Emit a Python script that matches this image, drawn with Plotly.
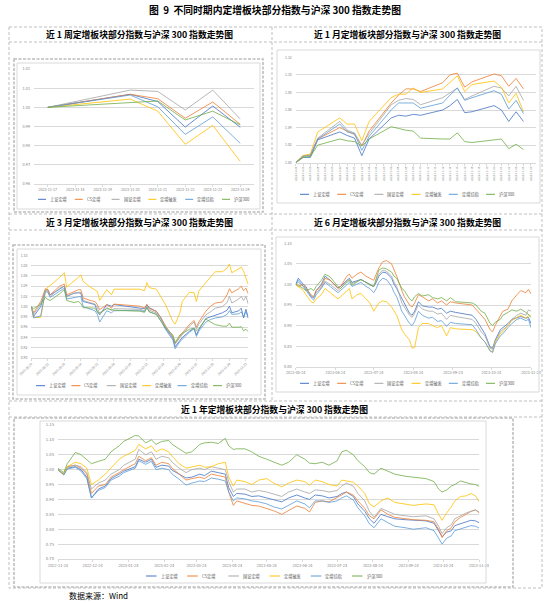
import plotly.graph_objects as go

W, H = 546, 603
FONT = "Noto Sans CJK SC"
TICK_COLOR = "#7F7F7F"
GRID_COLOR = "#D9D9D9"

names = ["上证定增", "CS定增", "国证定增", "定增破发", "定增综指", "沪深300"]
colors = ["#4472C4", "#ED7D31", "#A5A5A5", "#FFC000", "#5B9BD5", "#70AD47"]

# ---- 近1周 ----
week_dates = ["2023-11-17", "2023-11-20", "2023-11-21", "2023-11-22", "2023-11-23", "2023-11-24"]
week_sz = [1.000, 1.0068, 1.0030, 0.9897, 1.0007, 0.9896]
week_cs = [1.000, 1.0068, 1.0045, 0.9943, 1.0028, 0.9911]
week_gz = [1.000, 1.0090, 1.0083, 0.9986, 1.0090, 0.9939]
week_pf = [1.000, 1.0043, 0.9980, 0.9807, 0.9906, 0.9718]
week_zz = [1.000, 1.0064, 1.0003, 0.9859, 0.9950, 0.9812]
week_hs = [1.000, 1.0023, 1.0033, 0.9934, 0.9980, 0.9908]

# ---- 近1月 ----
month_dates = ["2023-10-24", "2023-10-25", "2023-10-26", "2023-10-27", "2023-10-30", "2023-10-31",
               "2023-11-01", "2023-11-02", "2023-11-03", "2023-11-06", "2023-11-07", "2023-11-08",
               "2023-11-09", "2023-11-10", "2023-11-13", "2023-11-14", "2023-11-15", "2023-11-16",
               "2023-11-17", "2023-11-20", "2023-11-21", "2023-11-22", "2023-11-23", "2023-11-24"]
month_sz = [1.000, 1.006, 1.006, 1.026, 1.035, 1.031, 1.028, 1.008, 1.027, 1.051, 1.054, 1.053,
            1.055, 1.054, 1.060, 1.065, 1.072, 1.057, 1.058, 1.065, 1.060, 1.047, 1.058, 1.047]
month_cs = [1.000, 1.008, 1.009, 1.027, 1.040, 1.036, 1.032, 1.019, 1.036, 1.068, 1.077, 1.084,
            1.084, 1.081, 1.091, 1.100, 1.102, 1.086, 1.092, 1.101, 1.099, 1.087, 1.096, 1.084]
month_gz = [1.000, 1.008, 1.008, 1.028, 1.047, 1.037, 1.034, 1.020, 1.033, 1.066, 1.071, 1.073,
            1.072, 1.066, 1.074, 1.080, 1.085, 1.072, 1.076, 1.087, 1.085, 1.076, 1.087, 1.071]
month_pf = [1.000, 1.008, 1.010, 1.035, 1.051, 1.044, 1.044, 1.025, 1.047, 1.074, 1.078, 1.078,
            1.085, 1.080, 1.084, 1.091, 1.099, 1.081, 1.089, 1.093, 1.086, 1.068, 1.079, 1.058]
month_zz = [1.000, 1.007, 1.008, 1.027, 1.044, 1.035, 1.033, 1.014, 1.030, 1.060, 1.068, 1.068,
            1.068, 1.062, 1.068, 1.077, 1.085, 1.071, 1.074, 1.082, 1.078, 1.061, 1.071, 1.056]
month_hs = [1.000, 1.006, 1.007, 1.020, 1.027, 1.025, 1.024, 1.019, 1.027, 1.041, 1.039, 1.037,
            1.036, 1.028, 1.027, 1.027, 1.034, 1.024, 1.023, 1.026, 1.027, 1.016, 1.021, 1.015]

# ---- 近3月 ----
q_dates = ["2023-08-24", "2023-08-25", "2023-08-28", "2023-08-30", "2023-08-31", "2023-09-01",
           "2023-09-05", "2023-09-07", "2023-09-08", "2023-09-11", "2023-09-13", "2023-09-14",
           "2023-09-15", "2023-09-18", "2023-09-20", "2023-09-21", "2023-09-22", "2023-09-25",
           "2023-09-27", "2023-09-28", "2023-10-09", "2023-10-11", "2023-10-12", "2023-10-13",
           "2023-10-16", "2023-10-18", "2023-10-20", "2023-10-23", "2023-10-24", "2023-10-26",
           "2023-10-27", "2023-10-30", "2023-11-01", "2023-11-02", "2023-11-03", "2023-11-06",
           "2023-11-08", "2023-11-10", "2023-11-13", "2023-11-15", "2023-11-16", "2023-11-17",
           "2023-11-20", "2023-11-21", "2023-11-22", "2023-11-23", "2023-11-24"]
q_sz = [1.000, 0.981, 1.000, 1.033, 1.033, 1.023, 1.034, 1.040, 1.020, 1.026, 1.027, 1.026,
        1.010, 1.006, 1.004, 0.990, 0.984, 1.004, 1.001, 1.004, 0.998, 0.996, 1.004, 0.998,
        0.991, 0.978, 0.957, 0.939, 0.922, 0.935, 0.940, 0.952, 0.958, 0.945, 0.955, 0.977,
        0.980, 0.984, 0.988, 0.993, 1.001, 0.988, 0.992, 0.997, 0.978, 0.995, 0.978]
q_cs = [1.000, 0.988, 1.010, 1.035, 1.033, 1.023, 1.040, 1.044, 1.023, 1.030, 1.033, 1.033,
        1.017, 1.012, 1.010, 1.004, 0.994, 1.004, 0.997, 1.005, 1.001, 0.997, 1.004, 0.996,
        0.991, 0.978, 0.962, 0.942, 0.929, 0.942, 0.949, 0.965, 0.973, 0.960, 0.970, 0.991,
        1.001, 1.007, 1.009, 1.023, 1.035, 1.027, 1.035, 1.040, 1.031, 1.036, 1.025]
q_gz = [1.000, 0.985, 1.005, 1.032, 1.030, 1.020, 1.036, 1.040, 1.020, 1.026, 1.028, 1.028,
        1.012, 1.008, 1.005, 0.999, 0.985, 0.998, 0.993, 0.996, 0.995, 0.992, 1.001, 0.993,
        0.988, 0.976, 0.960, 0.940, 0.927, 0.940, 0.946, 0.962, 0.970, 0.956, 0.966, 0.984,
        0.990, 0.997, 1.000, 1.008, 1.020, 1.007, 1.015, 1.020, 1.012, 1.020, 1.005]
q_pf = [1.000, 0.979, 0.979, 1.031, 1.038, 1.041, 1.057, 1.066, 1.038, 1.049, 1.057, 1.062,
        1.049, 1.038, 1.033, 1.030, 1.012, 1.033, 1.023, 1.034, 1.034, 1.031, 1.047, 1.037,
        1.034, 1.018, 1.003, 0.971, 0.966, 0.988, 1.010, 1.028, 1.027, 1.010, 1.030, 1.047,
        1.057, 1.068, 1.068, 1.075, 1.083, 1.066, 1.074, 1.077, 1.069, 1.056, 1.043]
q_zz = [1.000, 0.978, 0.982, 1.030, 1.028, 1.018, 1.030, 1.036, 1.015, 1.018, 1.020, 1.020,
        1.000, 0.995, 0.992, 0.985, 0.970, 0.992, 0.988, 0.992, 0.993, 0.990, 0.999, 0.990,
        0.985, 0.972, 0.955, 0.935, 0.918, 0.932, 0.937, 0.950, 0.957, 0.942, 0.952, 0.970,
        0.975, 0.978, 0.980, 0.985, 0.992, 0.985, 0.986, 0.990, 0.980, 0.990, 0.978]
q_hs = [1.000, 0.996, 1.005, 1.018, 1.014, 1.012, 1.025, 1.033, 1.012, 1.008, 1.010, 1.006,
        0.998, 0.998, 0.997, 0.990, 0.988, 0.996, 0.994, 0.993, 0.991, 0.989, 0.998, 0.990,
        0.985, 0.972, 0.958, 0.945, 0.930, 0.945, 0.948, 0.956, 0.958, 0.953, 0.957, 0.976,
        0.970, 0.965, 0.962, 0.962, 0.968, 0.960, 0.960, 0.961, 0.953, 0.956, 0.951]

# ---- 近6月 ----
half_dates = ["2023-05-24", "2023-05-26", "2023-05-30", "2023-06-01", "2023-06-05", "2023-06-07",
              "2023-06-09", "2023-06-13", "2023-06-16", "2023-06-20", "2023-06-26", "2023-06-28",
              "2023-07-03", "2023-07-05", "2023-07-07", "2023-07-11", "2023-07-14", "2023-07-18",
              "2023-07-21", "2023-07-24", "2023-07-26", "2023-07-28", "2023-07-31", "2023-08-03",
              "2023-08-07", "2023-08-09", "2023-08-11", "2023-08-15", "2023-08-17", "2023-08-21",
              "2023-08-23", "2023-08-25", "2023-08-28", "2023-08-31", "2023-09-05", "2023-09-08",
              "2023-09-12", "2023-09-15", "2023-09-19", "2023-09-22", "2023-09-26", "2023-10-09",
              "2023-10-12", "2023-10-16", "2023-10-19", "2023-10-23", "2023-10-25", "2023-10-27",
              "2023-10-31", "2023-11-02", "2023-11-06", "2023-11-09", "2023-11-13", "2023-11-16",
              "2023-11-20", "2023-11-22", "2023-11-24"]
half_sz = [1.000, 1.015, 1.000, 0.995, 0.970, 0.968, 0.985, 1.000, 1.020, 1.010, 0.992, 0.995,
           1.010, 1.015, 1.005, 1.008, 1.012, 1.005, 1.000, 0.995, 1.005, 1.020, 1.030, 1.028,
           1.015, 1.000, 0.990, 0.965, 0.955, 0.930, 0.925, 0.935, 0.958, 0.948, 0.945, 0.945,
           0.940, 0.942, 0.930, 0.935, 0.932, 0.925, 0.915, 0.895, 0.880, 0.848, 0.845, 0.865,
           0.890, 0.895, 0.905, 0.915, 0.920, 0.922, 0.918, 0.920, 0.905]
half_cs = [1.000, 0.995, 1.000, 0.990, 0.975, 0.970, 0.985, 0.995, 1.015, 1.010, 0.990, 0.995,
           1.020, 1.025, 1.015, 1.025, 1.030, 1.020, 1.015, 1.010, 1.025, 1.040, 1.055, 1.058,
           1.050, 1.035, 1.020, 0.985, 0.970, 0.950, 0.945, 0.955, 0.975, 0.970, 0.960, 0.965,
           0.955, 0.960, 0.950, 0.958, 0.955, 0.950, 0.940, 0.925, 0.915, 0.890, 0.885, 0.900,
           0.925, 0.935, 0.940, 0.960, 0.975, 0.985, 0.980, 0.988, 0.977]
half_gz = [1.000, 1.005, 0.995, 0.990, 0.972, 0.968, 0.980, 0.992, 1.008, 1.000, 0.985, 0.990,
           1.008, 1.012, 1.002, 1.008, 1.012, 1.005, 0.998, 0.995, 1.010, 1.025, 1.035, 1.032,
           1.020, 1.005, 0.995, 0.955, 0.945, 0.925, 0.920, 0.930, 0.950, 0.940, 0.935, 0.935,
           0.928, 0.930, 0.915, 0.925, 0.922, 0.915, 0.905, 0.885, 0.875, 0.845, 0.842, 0.860,
           0.885, 0.890, 0.900, 0.915, 0.925, 0.930, 0.925, 0.938, 0.935]
half_pf = [1.000, 0.995, 0.985, 0.975, 0.958, 0.955, 0.965, 0.975, 0.990, 0.980, 0.965, 0.970,
           0.985, 0.990, 0.965, 0.975, 0.978, 0.965, 0.955, 0.935, 0.945, 0.955, 0.960, 0.958,
           0.945, 0.935, 0.925, 0.890, 0.880, 0.865, 0.845, 0.847, 0.895, 0.905, 0.905, 0.900,
           0.895, 0.900, 0.875, 0.895, 0.892, 0.890, 0.885, 0.870, 0.860, 0.840, 0.835, 0.860,
           0.880, 0.885, 0.900, 0.912, 0.920, 0.925, 0.918, 0.925, 0.920]
half_zz = [1.000, 1.010, 0.995, 0.985, 0.968, 0.962, 0.975, 0.990, 1.005, 0.995, 0.980, 0.985,
           1.000, 1.005, 0.995, 1.000, 1.005, 0.995, 0.990, 0.980, 0.990, 1.005, 1.015, 1.012,
           0.995, 0.980, 0.970, 0.935, 0.925, 0.905, 0.900, 0.910, 0.935, 0.925, 0.918, 0.920,
           0.910, 0.912, 0.898, 0.908, 0.905, 0.902, 0.890, 0.870, 0.860, 0.838, 0.835, 0.855,
           0.875, 0.880, 0.895, 0.905, 0.915, 0.918, 0.912, 0.915, 0.895]
half_hs = [1.000, 0.998, 0.990, 0.985, 0.990, 0.985, 0.995, 1.010, 1.025, 1.018, 0.995, 0.990,
           1.005, 1.010, 0.998, 1.005, 1.012, 1.005, 1.000, 0.995, 1.015, 1.035, 1.040, 1.038,
           1.030, 1.020, 1.015, 0.990, 0.985, 0.965, 0.960, 0.970, 0.978, 0.972, 0.975, 0.968,
           0.965, 0.968, 0.960, 0.968, 0.958, 0.955, 0.950, 0.935, 0.930, 0.905, 0.900, 0.908,
           0.915, 0.925, 0.932, 0.938, 0.935, 0.940, 0.932, 0.928, 0.922]

# ---- 近1年 ----
year_dates = ["2022-11-24", "2022-11-29", "2022-12-02", "2022-12-09", "2022-12-14", "2022-12-19",
              "2022-12-23", "2022-12-29", "2023-01-04", "2023-01-09", "2023-01-16", "2023-01-20",
              "2023-01-30", "2023-02-02", "2023-02-08", "2023-02-13", "2023-02-17", "2023-02-22",
              "2023-02-28", "2023-03-03", "2023-03-09", "2023-03-15", "2023-03-20", "2023-03-27",
              "2023-03-31", "2023-04-06", "2023-04-12", "2023-04-18", "2023-04-21", "2023-04-25",
              "2023-04-28", "2023-05-05", "2023-05-11", "2023-05-17", "2023-05-24", "2023-05-30",
              "2023-06-06", "2023-06-12", "2023-06-19", "2023-06-26", "2023-06-30", "2023-07-05",
              "2023-07-11", "2023-07-17", "2023-07-24", "2023-07-28", "2023-08-01", "2023-08-07",
              "2023-08-11", "2023-08-17", "2023-08-21", "2023-08-25", "2023-08-31", "2023-09-06",
              "2023-09-12", "2023-09-21", "2023-09-28", "2023-10-09", "2023-10-16", "2023-10-20",
              "2023-10-23", "2023-10-27", "2023-10-31", "2023-11-03", "2023-11-08", "2023-11-13",
              "2023-11-17", "2023-11-21", "2023-11-24"]
year_sz = [1.000, 0.983, 1.005, 1.010, 1.000, 0.975, 0.905, 0.935, 0.945, 0.970, 0.985, 0.995,
           1.010, 1.035, 1.025, 1.035, 1.008, 1.015, 1.012, 0.998, 0.985, 0.972, 0.975, 0.985,
           0.980, 0.995, 0.990, 0.985, 0.940, 0.910, 0.920, 0.918, 0.910, 0.912, 0.905, 0.898,
           0.892, 0.905, 0.915, 0.905, 0.900, 0.915, 0.912, 0.905, 0.910, 0.920, 0.925, 0.910,
           0.885, 0.860, 0.835, 0.820, 0.850, 0.842, 0.835, 0.832, 0.830, 0.828, 0.820, 0.795,
           0.775, 0.790, 0.795, 0.812, 0.818, 0.825, 0.830, 0.828, 0.822]
year_cs = [1.000, 0.985, 1.010, 1.015, 1.005, 0.985, 0.920, 0.945, 0.950, 0.975, 0.990, 1.000,
           1.020, 1.045, 1.030, 1.040, 1.015, 1.025, 1.020, 1.005, 0.985, 0.965, 0.970, 0.975,
           0.970, 0.985, 0.980, 0.975, 0.925, 0.880, 0.895, 0.888, 0.880, 0.878, 0.870, 0.862,
           0.850, 0.862, 0.878, 0.870, 0.858, 0.890, 0.895, 0.892, 0.905, 0.915, 0.925, 0.915,
           0.895, 0.870, 0.845, 0.835, 0.865, 0.850, 0.840, 0.835, 0.832, 0.830, 0.825, 0.800,
           0.772, 0.795, 0.805, 0.825, 0.840, 0.850, 0.860, 0.865, 0.855]
year_gz = [1.000, 0.985, 1.010, 1.015, 1.010, 0.990, 0.935, 0.955, 0.965, 0.985, 1.000, 1.015,
           1.035, 1.068, 1.050, 1.060, 1.035, 1.045, 1.040, 1.025, 1.005, 0.990, 1.000, 1.005,
           1.000, 1.010, 1.005, 1.000, 0.960, 0.925, 0.935, 0.935, 0.925, 0.930, 0.925, 0.918,
           0.910, 0.925, 0.935, 0.925, 0.920, 0.932, 0.930, 0.925, 0.930, 0.945, 0.955, 0.945,
           0.920, 0.895, 0.860, 0.840, 0.870, 0.860, 0.850, 0.845, 0.842, 0.845, 0.835, 0.810,
           0.785, 0.805, 0.815, 0.835, 0.845, 0.855, 0.860, 0.865, 0.858]
year_pf = [1.000, 0.985, 1.010, 1.025, 1.020, 1.005, 0.950, 0.965, 0.985, 1.005, 1.035, 1.045,
           1.065, 1.085, 1.070, 1.080, 1.060, 1.070, 1.060, 1.045, 1.020, 1.005, 1.010, 1.015,
           1.008, 1.010, 1.020, 1.025, 0.975, 0.945, 0.965, 0.960, 0.950, 0.965, 0.970, 0.955,
           0.942, 0.955, 0.965, 0.960, 0.948, 0.965, 0.960, 0.950, 0.945, 0.965, 0.962, 0.958,
           0.945, 0.920, 0.885, 0.875, 0.895, 0.905, 0.890, 0.885, 0.880, 0.885, 0.882, 0.850,
           0.830, 0.855, 0.875, 0.895, 0.910, 0.912, 0.920, 0.912, 0.893]
year_zz = [1.000, 0.982, 1.002, 1.008, 0.995, 0.970, 0.905, 0.930, 0.940, 0.965, 0.978, 0.990,
           1.005, 1.030, 1.018, 1.028, 1.000, 1.005, 1.000, 0.985, 0.968, 0.948, 0.955, 0.962,
           0.960, 0.972, 0.968, 0.962, 0.925, 0.895, 0.905, 0.902, 0.895, 0.892, 0.885, 0.875,
           0.868, 0.880, 0.895, 0.885, 0.872, 0.895, 0.895, 0.890, 0.895, 0.905, 0.912, 0.898,
           0.872, 0.845, 0.818, 0.805, 0.835, 0.822, 0.810, 0.805, 0.800, 0.805, 0.795, 0.770,
           0.750, 0.770, 0.778, 0.795, 0.802, 0.808, 0.812, 0.810, 0.804]
year_hs = [1.005, 0.990, 1.020, 1.058, 1.050, 1.035, 1.020, 1.028, 1.035, 1.060, 1.080, 1.095,
           1.115, 1.113, 1.090, 1.100, 1.085, 1.095, 1.098, 1.085, 1.070, 1.055, 1.060, 1.085,
           1.090, 1.092, 1.088, 1.105, 1.080, 1.068, 1.070, 1.070, 1.060, 1.045, 1.035, 1.025,
           1.015, 1.025, 1.050, 1.035, 1.022, 1.020, 1.025, 1.015, 1.030, 1.060, 1.065, 1.050,
           1.030, 1.010, 0.990, 0.985, 1.005, 0.995, 0.985, 0.978, 0.975, 0.970, 0.960, 0.935,
           0.925, 0.932, 0.945, 0.950, 0.962, 0.955, 0.952, 0.950, 0.944]

# panel geometry in pixels: plot box (left, right, top, bottom), legend (x0, step, y, line length)
panels = [
    dict(dates=week_dates, series=[week_sz, week_cs, week_gz, week_pf, week_zz, week_hs],
         box=(34, 254, 69, 184), xrange=["2023-11-16 12:00", "2023-11-24 12:00"],
         yrange=[0.96, 1.02], ydtick=0.01, tick0="2023-11-17", xdtick=86400000,
         angle=0, xfont=3.6, yfont=3.8, legend=(38, 36.8, 199.3, 8)),
    dict(dates=month_dates, series=[month_sz, month_cs, month_gz, month_pf, month_zz, month_hs],
         box=(295.7, 536, 57.3, 162.7), xrange=["2023-10-24", "2023-11-25 17:00"],
         yrange=[1.00, 1.12], ydtick=0.02, tick0="2023-10-24", xdtick=86400000,
         angle=-90, xfont=2.8, yfont=3.4, legend=(300, 37.2, 194.3, 9)),
    dict(dates=q_dates, series=[q_sz, q_cs, q_gz, q_pf, q_zz, q_hs],
         box=(31.3, 248.3, 255.3, 358), xrange=["2023-08-24", "2023-11-24"],
         yrange=[0.90, 1.10], ydtick=0.02, tick0="2023-08-24", xdtick=7 * 86400000,
         angle=-45, xfont=3.2, yfont=3.4, legend=(36, 35.4, 385.7, 9)),
    dict(dates=half_dates, series=[half_sz, half_cs, half_gz, half_pf, half_zz, half_hs],
         box=(295.7, 531, 243.3, 366.7), xrange=["2023-05-24", "2023-11-24"],
         yrange=[0.80, 1.10], ydtick=0.05, tick0="2023-05-24", xdtick="M1",
         angle=0, xfont=3.8, yfont=4.0, legend=(300, 37.2, 383.3, 9)),
    dict(dates=year_dates, series=[year_sz, year_cs, year_gz, year_pf, year_zz, year_hs],
         box=(58, 479, 425, 559), xrange=["2022-11-24", "2023-11-24"],
         yrange=[0.70, 1.15], ydtick=0.05, tick0="2022-11-24", xdtick="M1",
         angle=0, xfont=3.9, yfont=4.2, legend=(146, 41.2, 576, 10.5)),
]


def fx(p):
    return p / W


def fy(p):
    return 1 - p / H


fig = go.Figure()
shapes = []
annotations = []

for i, p in enumerate(panels, start=1):
    suffix = "" if i == 1 else str(i)
    for name, color, values in zip(names, colors, p["series"]):
        fig.add_trace(
            go.Scatter(
                x=p["dates"], y=values, name=name, mode="lines",
                line=dict(color=color, width=0.8),
                xaxis="x" + suffix, yaxis="y" + suffix,
                showlegend=False, hoverinfo="skip",
            )
        )
    left, right, top, bottom = p["box"]
    fig.update_layout(**{
        "xaxis" + suffix: dict(
            domain=[fx(left), fx(right)], anchor="y" + suffix, type="date",
            range=p["xrange"], tick0=p["tick0"], dtick=p["xdtick"], tickformat="%Y-%m-%d",
            tickangle=p["angle"], tickfont=dict(size=p["xfont"], color=TICK_COLOR),
            showgrid=False, showline=True, linecolor=GRID_COLOR, linewidth=0.8,
            ticks="outside", ticklen=2, tickcolor=GRID_COLOR, tickwidth=0.6,
            zeroline=False, automargin=False, fixedrange=True,
        ),
        "yaxis" + suffix: dict(
            domain=[fy(bottom), fy(top)], anchor="x" + suffix,
            range=p["yrange"], dtick=p["ydtick"], tickformat=".2f",
            tickfont=dict(size=p["yfont"], color=TICK_COLOR),
            showgrid=True, gridcolor=GRID_COLOR, gridwidth=0.6,
            showline=False, ticks="", zeroline=False, automargin=False,
            ticklabelstandoff=3, fixedrange=True,
        ),
    })
    # legend drawn as short line + label, Excel style
    lx, step, ly, seg = p["legend"]
    for k, (name, color) in enumerate(zip(names, colors)):
        x = lx + k * step
        shapes.append(dict(type="line", xref="paper", yref="paper",
                           x0=fx(x), x1=fx(x + seg), y0=fy(ly), y1=fy(ly),
                           line=dict(color=color, width=1)))
        annotations.append(dict(text=name, xref="paper", yref="paper", x=fx(x + seg + 2),
                                y=fy(ly), xanchor="left", yanchor="middle", showarrow=False,
                                font=dict(size=4.2, color="#595959")))


def dashed_line(x0, y0, x1, y1, width=1, dash="3px,2px", color="#BFBFBF"):
    shapes.append(dict(type="line", xref="paper", yref="paper",
                       x0=fx(x0), y0=fy(y0), x1=fx(x1), y1=fy(y1),
                       line=dict(color=color, width=width, dash=dash)))


def box(x0, y0, x1, y1, width=1, dash="solid", color="#D9D9D9"):
    shapes.append(dict(type="rect", xref="paper", yref="paper",
                       x0=fx(x0), y0=fy(y0), x1=fx(x1), y1=fy(y1),
                       line=dict(color=color, width=width, dash=dash)))


# table grid
box(9, 27, 542, 588, dash="3px,2px", color="#BFBFBF")
dashed_line(272, 27, 272, 401)
for yy in (42, 214, 230, 401, 417):
    dashed_line(9, yy, 542, yy)

# chart frames
box(14, 59, 263, 212, width=1.6, dash="3px,1.5px", color="#BDBDBD")
box(17, 63, 260, 209)
box(277, 50, 540, 203)
box(13, 245, 265, 399, width=1.6, dash="3px,1.5px", color="#BDBDBD")
box(17, 249, 261, 395)
box(276, 237, 539, 392)
box(14, 418, 513, 587, width=1.6, dash="3px,1.5px", color="#BDBDBD")
box(40, 421, 486, 583)

headers = [
    ("近 1 周定增板块部分指数与沪深 300 指数走势图", 139, 34.5),
    ("近 1 月定增板块部分指数与沪深 300 指数走势图", 407, 35),
    ("近 3 月定增板块部分指数与沪深 300 指数走势图", 139, 222),
    ("近 6 月定增板块部分指数与沪深 300 指数走势图", 407, 222),
    ("近 1 年定增板块部分指数与沪深 300 指数走势图", 274, 409),
]
for text, cx, cy in headers:
    annotations.append(dict(text="<b>" + text + "</b>", xref="paper", yref="paper",
                            x=fx(cx), y=fy(cy), xanchor="center", yanchor="middle",
                            showarrow=False, font=dict(size=8.8, color="#000000")))

annotations.append(dict(text="<b>图  9  不同时期内定增板块部分指数与沪深 300 指数走势图</b>",
                        xref="paper", yref="paper", x=fx(275), y=fy(10.5),
                        xanchor="center", yanchor="middle", showarrow=False,
                        font=dict(size=9.8, color="#000000")))
annotations.append(dict(text="数据来源：Wind", xref="paper", yref="paper", x=fx(67), y=fy(595),
                        xanchor="left", yanchor="middle", showarrow=False,
                        font=dict(size=8, color="#000000")))

fig.update_layout(
    template="none",
    width=W, height=H, autosize=False,
    margin=dict(l=0, r=0, t=0, b=0),
    paper_bgcolor="white", plot_bgcolor="white",
    font=dict(family=FONT, color="#595959"),
    showlegend=False,
    shapes=shapes,
    annotations=annotations,
)

fig.write_html("out.html", config={"displayModeBar": False},
               post_script="document.body.style.margin='0px';")
